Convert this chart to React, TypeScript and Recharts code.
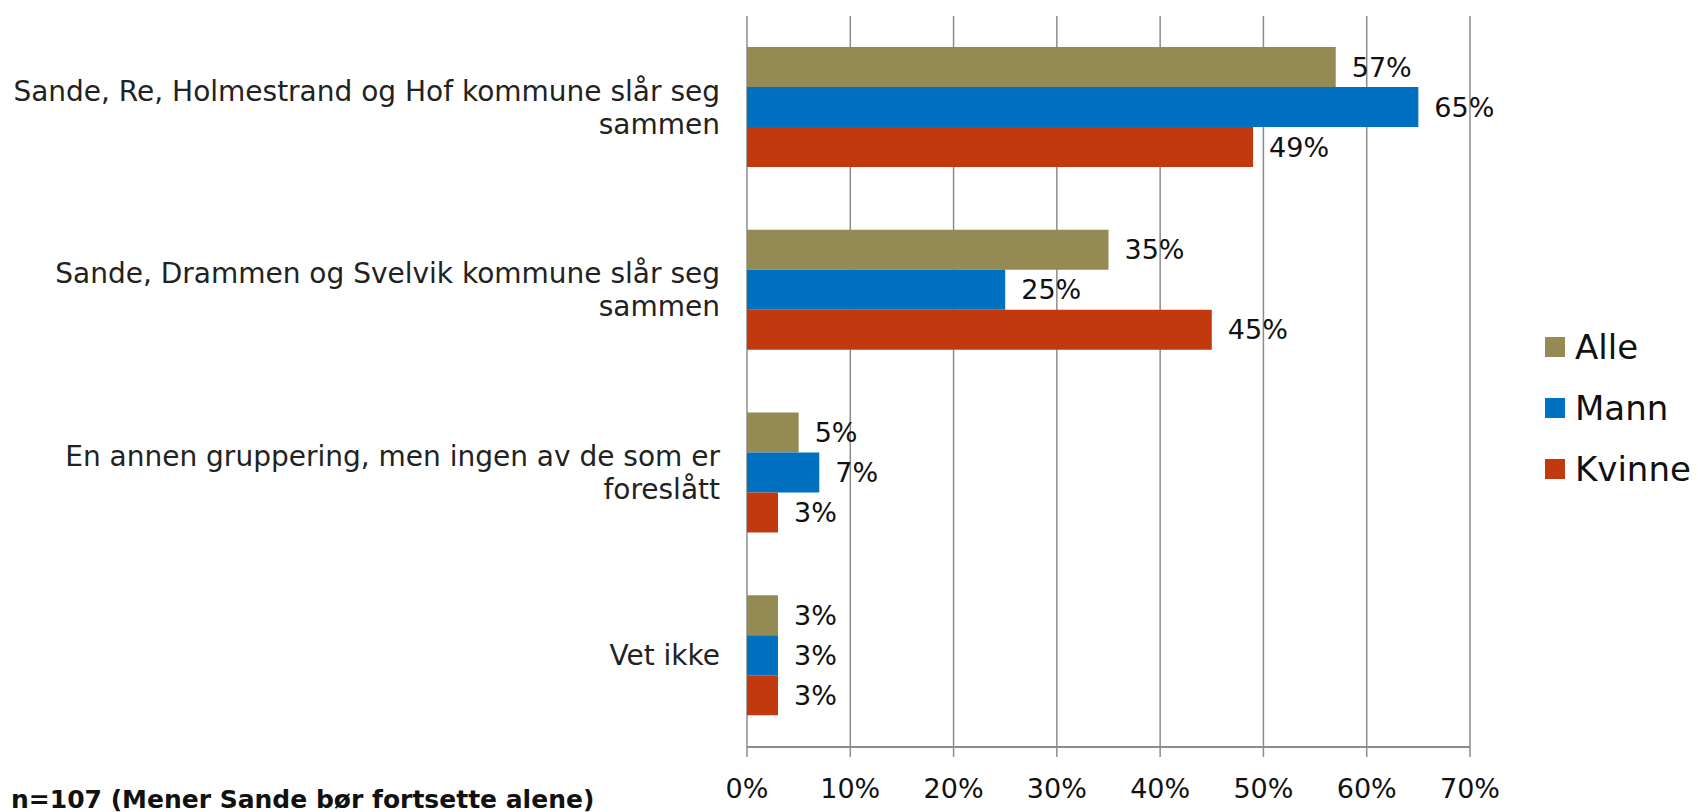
import { Bar, BarChart, CartesianGrid, LabelList, XAxis, YAxis } from "recharts"

// Survey categories (line breaks as in the original)
const categories = [
  "Sande, Re, Holmestrand og Hof kommune slår seg\nsammen",
  "Sande, Drammen og Svelvik kommune slår seg\nsammen",
  "En annen gruppering, men ingen av de som er\nforeslått",
  "Vet ikke",
]

const alle = [57, 35, 5, 3]
const mann = [65, 25, 7, 3]
const kvinne = [49, 45, 3, 3]

const xTicks = [0, 10, 20, 30, 40, 50, 60, 70]
const edgeTicks = [0, 1, 2, 3, 4]

const seriesInfo = [
  { key: "alle", name: "Alle", color: "#948A54" },
  { key: "mann", name: "Mann", color: "#0070C0" },
  { key: "kvinne", name: "Kvinne", color: "#C3390F" },
]

const data = categories.map((c, i) => ({
  name: c,
  alle: alle[i],
  mann: mann[i],
  kvinne: kvinne[i],
}))

const FONT = "'DejaVu Sans', sans-serif"
const GRID = "#8c8c8c"

function CategoryTick(props: any) {
  const { x, y, payload } = props
  const lines = String(payload.value).split("\n")
  const lh = 33
  const start = y - ((lines.length - 1) * lh) / 2
  return (
    <text x={x} y={start} textAnchor="end" fontFamily={FONT} fontSize={28} fill="#222">
      {lines.map((l, i) => (
        <tspan key={i} x={x} y={start + i * lh} dy="0.35em">
          {l}
        </tspan>
      ))}
    </text>
  )
}

function LegendBox() {
  return (
    <div style={{ position: "absolute", left: 1545, top: 316, fontFamily: FONT }}>
      {seriesInfo.map((s) => (
        <div key={s.key} style={{ display: "flex", alignItems: "center", height: 61 }}>
          <div style={{ width: 20, height: 20, background: s.color, marginRight: 10 }} />
          <span style={{ fontSize: 34, color: "#111" }}>{s.name}</span>
        </div>
      ))}
    </div>
  )
}

export default function App() {
  return (
    <div style={{ position: "absolute", left: 0, top: 0, width: 1698, height: 812, background: "#fff" }}>
      <BarChart
        width={1698}
        height={812}
        data={data}
        layout="vertical"
        barGap={0}
        barCategoryGap="17%"
        margin={{ top: 16, right: 228, bottom: 15, left: 0 }}
      >
        <CartesianGrid horizontal={false} stroke={GRID} strokeWidth={1.5} />
        <XAxis
          type="number"
          domain={[0, 70]}
          ticks={xTicks}
          tickFormatter={(v) => `${v}%`}
          height={50}
          tickSize={10}
          tickMargin={22}
          axisLine={{ stroke: GRID, strokeWidth: 2 }}
          tickLine={{ stroke: GRID, strokeWidth: 1.5 }}
          tick={{ fontFamily: FONT, fontSize: 27, fill: "#111" }}
        />
        <YAxis
          yAxisId="edges"
          type="number"
          domain={[0, 4]}
          ticks={edgeTicks}
          width={0}
          tick={false}
          tickSize={10}
          axisLine={{ stroke: GRID, strokeWidth: 1.5 }}
          tickLine={{ stroke: GRID, strokeWidth: 1.5 }}
        />
        <YAxis
          type="category"
          dataKey="name"
          width={747}
          tickLine={false}
          axisLine={false}
          tickSize={0}
          tickMargin={27}
          tick={<CategoryTick />}
        />
        {seriesInfo.map((s) => (
          <Bar key={s.key} dataKey={s.key} name={s.name} fill={s.color} isAnimationActive={false}>
            <LabelList
              dataKey={s.key}
              position="right"
              offset={16}
              formatter={(v: any) => `${v}%`}
              style={{ fontFamily: FONT, fontSize: 27, fill: "#111" }}
            />
          </Bar>
        ))}
      </BarChart>
      <LegendBox />
      <div
        style={{
          position: "absolute",
          left: 11,
          top: 785,
          fontFamily: FONT,
          fontWeight: "bold",
          fontSize: 25,
          color: "#111",
          whiteSpace: "nowrap",
        }}
      >
        n=107 (Mener Sande bør fortsette alene)
      </div>
    </div>
  )
}
